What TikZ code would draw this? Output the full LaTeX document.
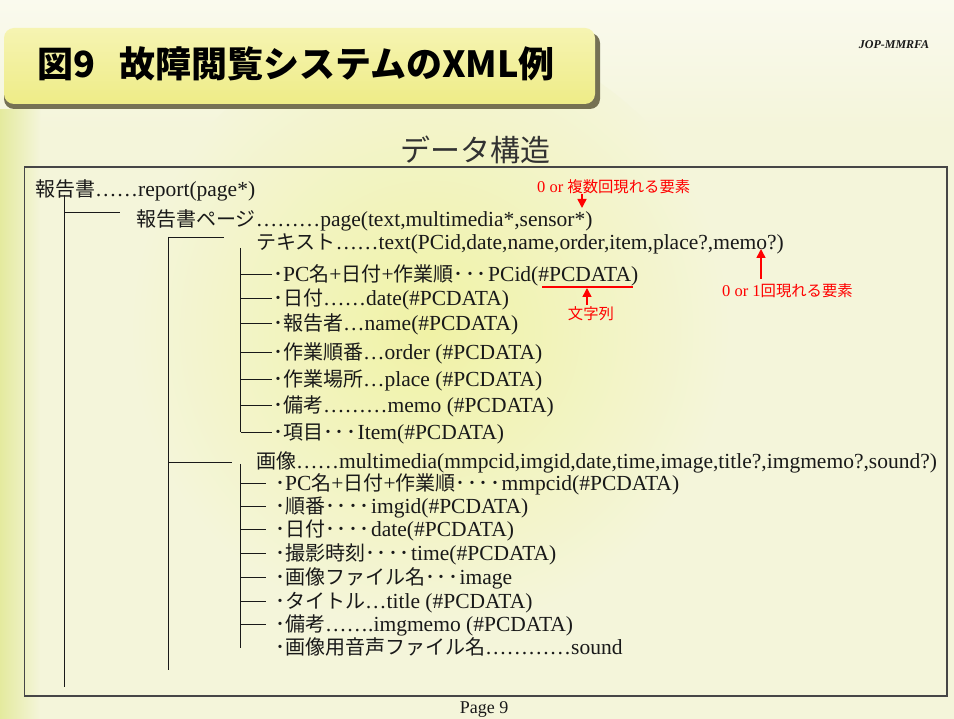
\documentclass[tikz,border=0pt]{standalone}
\usepackage{fontspec}
\setmainfont{Liberation Serif}
\newfontfamily\jp[Scale=0.93]{Noto Sans CJK JP}
\newfontfamily\jpt{Noto Sans CJK JP}
\usetikzlibrary{arrows.meta}
\newcommand{\J}[1]{{\jp #1}}
\newcommand{\dd}{{\jp ･}\kern1.5pt}
\definecolor{bgc}{RGB}{244,245,218}
\definecolor{yc}{RGB}{240,242,165}
\definecolor{lc}{RGB}{228,234,158}
\definecolor{topc}{RGB}{250,250,238}
\definecolor{bnA}{RGB}{246,244,178}
\definecolor{bnB}{RGB}{238,236,135}
\definecolor{shc}{RGB}{95,90,60}
\definecolor{ink}{RGB}{25,25,25}
\definecolor{framec}{RGB}{70,70,70}
\begin{document}
\begin{tikzpicture}[x=1pt,y=-1pt,
  tx/.style={anchor=west, inner sep=0pt, text height=14.6pt, text depth=0pt, font=\fontsize{21.5}{21.5}\selectfont, text=ink},
  tree/.style={draw=ink, line width=0.9pt},
  note/.style={anchor=west, inner sep=0pt, text=red, text height=11pt, text depth=0pt, font=\fontsize{16.5}{16.5}\selectfont},
  redarr/.style={draw=red, line width=1.5pt, -{Triangle[width=9pt,length=9pt]}},
]
\useasboundingbox (0,0) rectangle (954,719);
\fill[bgc] (0,0) rectangle (954,719);
\shade[top color=topc, bottom color=bgc] (0,0) rectangle (954,130);
\shade[left color=lc, right color=bgc] (0,110) rectangle (40,719);
\shade[inner color=yc, outer color=bgc] (430,330) circle (300pt);
% banner
\fill[shc, rounded corners=10pt, opacity=0.85] (4,33) rectangle (600,109);
\shade[top color=bnA, bottom color=bnB, rounded corners=10pt] (4,28) rectangle (595,104);
\node[anchor=west, inner sep=0pt, text height=27.4pt, text depth=0pt, text=black] (title) at (37,64)
  {\jpt\bfseries\fontsize{36}{36}\selectfont 図9\hspace{24pt}故障閲覧システムのXML例};
\node[inner sep=0pt, text=ink] (jop) at (894,45) {\bfseries\itshape\fontsize{12}{12}\selectfont JOP-MMRFA};
\node[inner sep=0pt, text height=22.8pt, text depth=0pt, text={rgb,255:red,50;green,50;blue,50}] (head) at (475,150)
  {\jpt\fontsize{30}{30}\selectfont データ構造};
% frame
\draw[framec, line width=1.3pt] (24.5,167) rectangle (947,696);
\node[inner sep=0pt, text=ink] (page) at (484,709) {\fontsize{18}{18}\selectfont Page 9};
% tree text
\node[tx] (r1) at (35,189) {\J{報告書}……report(page*)};
\node[tx] (r2) at (136,219) {\J{報告書ページ}………page(text,multimedia*,sensor*)};
\node[tx] (r3) at (256,242) {\J{テキスト}……text(PCid,date,name,order,item,place?,memo?)};
\node[tx] (t1) at (273,274) {\J{･}PC\J{名}+\J{日付}+\J{作業順}\dd\dd\dd PCid(\#PCDATA)};
\node[tx] (t2) at (273,298) {\J{･日付}……date(\#PCDATA)};
\node[tx] (t3) at (273,323) {\J{･報告者}…name(\#PCDATA)};
\node[tx] (t4) at (273,352) {\J{･作業順番}…order (\#PCDATA)};
\node[tx] (t5) at (273,379) {\J{･作業場所}…place (\#PCDATA)};
\node[tx] (t6) at (273,405) {\J{･備考}………memo (\#PCDATA)};
\node[tx] (t7) at (273,432) {\J{･項目}\dd\dd\dd Item(\#PCDATA)};
\node[tx] (m0) at (256,461) {\J{画像}……multimedia(mmpcid,imgid,date,time,image,title?,imgmemo?,sound?)};
\node[tx] (m1) at (275,483) {\J{･}PC\J{名}+\J{日付}+\J{作業順}\dd\dd\dd\dd mmpcid(\#PCDATA)};
\node[tx] (m2) at (275,506) {\J{･順番}\dd\dd\dd\dd imgid(\#PCDATA)};
\node[tx] (m3) at (275,529) {\J{･日付}\dd\dd\dd\dd date(\#PCDATA)};
\node[tx] (m4) at (275,553) {\J{･撮影時刻}\dd\dd\dd\dd time(\#PCDATA)};
\node[tx] (m5) at (275,577) {\J{･画像ファイル名}\dd\dd\dd image};
\node[tx] (m6) at (275,601) {\J{･タイトル}…title (\#PCDATA)};
\node[tx] (m7) at (275,624) {\J{･備考}…….imgmemo (\#PCDATA)};
\node[tx] (m8) at (275,647) {\J{･画像用音声ファイル名}…………sound};
% tree lines
\coordinate (v1a) at (64.7,195);
\coordinate (v1b) at (64.7,687);
\coordinate (h1b) at (120,212);
\draw[tree] (v1a) -- (v1b);
\draw[tree] (v1a |- h1b) -- (h1b);
\coordinate (v2a) at (168,237);
\coordinate (v2b) at (168,670);
\coordinate (h2b) at (224,237);
\draw[tree] (v2a) -- (v2b);
\draw[tree] (v2a) -- (h2b);
\coordinate (v3a) at (240.7,248);
\draw[tree] (v3a) -- (v3a |- t7.west);
\foreach \n in {t1,t2,t3,t4,t5,t6,t7}
  \draw[tree] (v3a |- \n.west) -- ([xshift=-1pt]\n.west);
\coordinate (h4b) at (232,462);
\draw[tree] (v2a |- h4b) -- (h4b);
\coordinate (v4a) at (240.7,464);
\coordinate (v4b) at (240.7,648);
\draw[tree] (v4a) -- (v4b);
\foreach \n in {m1,m2,m3,m4,m5,m6,m7}
  \draw[tree] (v4a |- \n.west) -- ([xshift=-9pt]\n.west);
% annotations
\node[note] (n1) at (537,187) {0 or \J{複数回現れる要素}};
\coordinate (a1s) at (582,194);
\coordinate (a1e) at (582,208);
\draw[redarr] (a1s) -- (a1e);
\node[note] (n2) at (722,291) {0 or 1\J{回現れる要素}};
\coordinate (a2s) at (761,279);
\coordinate (a2e) at (761,249);
\draw[redarr] (a2s) -- (a2e);
\coordinate (u1) at (542,287);
\coordinate (u2) at (633,287);
\draw[red, line width=1.5pt] (u1) -- (u2);
\node[note, anchor=center] (n3) at (591,314) {\J{文字列}};
\coordinate (a3s) at (587,305);
\coordinate (a3e) at (587,288);
\draw[redarr] (a3s) -- (a3e);
\end{tikzpicture}
\end{document}
